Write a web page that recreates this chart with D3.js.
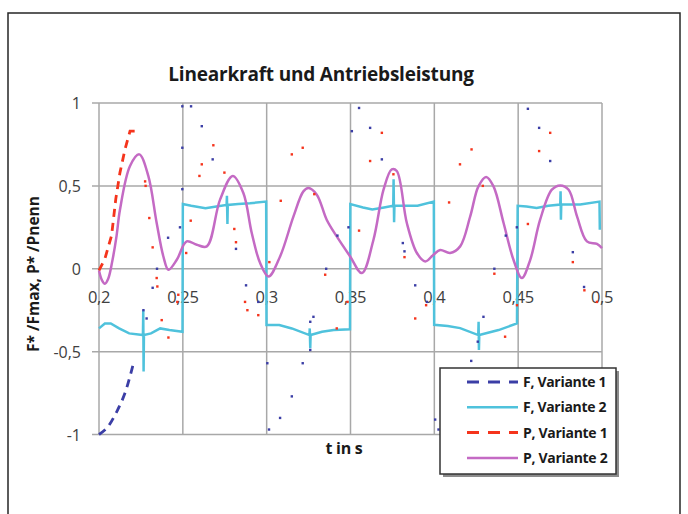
<!DOCTYPE html>
<html>
<head>
<meta charset="utf-8">
<script src="https://cdn.jsdelivr.net/npm/d3@7"></script>
<style>
  body { margin: 0; background: #fff; }
  text { font-family: "Open Sans", sans-serif; }
</style>
</head>
<body>
<svg width="688" height="514"></svg>
<script>
  const xTicks = [0.2, 0.25, 0.3, 0.35, 0.4, 0.45, 0.5];
  const yTicks = [-1, -0.5, 0, 0.5, 1];
  const seriesNames = ["F, Variante 1", "F, Variante 2", "P, Variante 1", "P, Variante 2"];

  // F, Variante 1: dashed start, then only dots are left of the dashed line
  const f1Dash = [[0.2, -1], [0.2048, -0.96], [0.2107, -0.86], [0.2155, -0.75], [0.2203, -0.58]];
  const f1Dots = [
    [0.2265, -0.25], [0.2284, -0.3], [0.232, -0.115], [0.2346, 0.0], [0.2412, 0.187], [0.2483, 0.25],
    [0.2497, 0.48], [0.2497, 0.73], [0.2497, 0.98], [0.2549, 0.98], [0.2613, 0.86], [0.2678, 0.66],
    [0.2817, 0.12], [0.2877, -0.1], [0.295, -0.2], [0.3004, -0.57], [0.3014, -0.97], [0.308, -0.9],
    [0.315, -0.77], [0.3215, -0.57], [0.326, -0.49], [0.326, -0.32], [0.3279, -0.29], [0.3355, 0.0],
    [0.3422, 0.2], [0.3488, 0.25], [0.3508, 0.83], [0.3551, 0.97], [0.3617, 0.85], [0.3687, 0.66],
    [0.3812, 0.155], [0.3822, 0.105], [0.3886, -0.1], [0.3956, -0.2], [0.4005, -0.91], [0.4025, -0.97],
    [0.422, -0.556], [0.4259, -0.44], [0.4293, -0.29], [0.4358, 0.0], [0.4426, 0.2], [0.4492, 0.25],
    [0.4558, 0.965], [0.4625, 0.85], [0.4691, 0.65], [0.4826, 0.1], [0.4893, -0.11]
  ];

  // F, Variante 2
  const f2 = [
    [0.2, -0.36], [0.2035, -0.33], [0.207, -0.33], [0.212, -0.36], [0.218, -0.39], [0.2262, -0.4],
    [0.2264, -0.25], [0.2266, -0.62], [0.2268, -0.4], [0.231, -0.39], [0.2365, -0.36], [0.242, -0.37],
    [0.2498, -0.38], [0.25, 0.39], [0.255, 0.38], [0.2635, 0.365], [0.27, 0.375], [0.2761, 0.385],
    [0.2763, 0.44], [0.2766, 0.27], [0.2768, 0.385], [0.283, 0.39], [0.29, 0.395], [0.2997, 0.405],
    [0.2999, -0.34], [0.3075, -0.34], [0.315, -0.36], [0.3255, -0.4], [0.3257, -0.36], [0.326, -0.48],
    [0.3262, -0.4], [0.333, -0.38], [0.34, -0.37], [0.3497, -0.365], [0.3499, 0.39], [0.3575, 0.37],
    [0.363, 0.357], [0.37, 0.37], [0.3755, 0.38], [0.3757, 0.54], [0.376, 0.28], [0.3762, 0.38],
    [0.382, 0.38], [0.39, 0.38], [0.3997, 0.405], [0.3999, -0.338], [0.408, -0.345], [0.4154, -0.358],
    [0.4262, -0.4], [0.4264, -0.32], [0.4266, -0.49], [0.4268, -0.4], [0.4383, -0.37], [0.4493, -0.33],
    [0.4497, 0.38], [0.455, 0.375], [0.461, 0.367], [0.468, 0.38], [0.4751, 0.387], [0.4753, 0.467],
    [0.4755, 0.296], [0.4757, 0.387], [0.487, 0.387], [0.4985, 0.405], [0.4987, 0.235]
  ];

  // P, Variante 1: dashed start, then dots
  const p1Dash = [[0.2, -0.01], [0.2035, 0.06], [0.2075, 0.2], [0.21, 0.42], [0.2125, 0.58], [0.2155, 0.72], [0.2185, 0.83], [0.2215, 0.83]];
  const p1Dots = [
    [0.2275, 0.527], [0.2278, 0.5], [0.23, 0.306], [0.232, 0.129], [0.2344, -0.056], [0.2348, -0.107],
    [0.2374, -0.31], [0.2414, -0.415], [0.2467, -0.2], [0.2473, -0.157], [0.252, 0.095], [0.2547, 0.29],
    [0.2599, 0.56], [0.2613, 0.63], [0.2682, 0.745], [0.2748, 0.58], [0.2807, 0.24], [0.2817, 0.16],
    [0.2871, -0.2], [0.2885, -0.25], [0.295, -0.28], [0.3016, 0.04], [0.3084, 0.41], [0.315, 0.69],
    [0.3215, 0.73], [0.3284, 0.45], [0.3349, -0.036], [0.3418, -0.36], [0.3482, -0.2], [0.3551, 0.23],
    [0.3617, 0.65], [0.3687, 0.82], [0.3756, 0.57], [0.3822, 0.07], [0.3886, -0.3], [0.3951, -0.22],
    [0.4088, 0.4], [0.4153, 0.63], [0.4222, 0.72], [0.4289, 0.5], [0.4358, -0.03], [0.4422, -0.41],
    [0.4493, -0.22], [0.4558, 0.27], [0.4625, 0.71], [0.4691, 0.82], [0.4826, 0.04], [0.4895, -0.13],
    [0.497, -0.2]
  ];

  // P, Variante 2
  const p2 = [
    [0.2, -0.01], [0.2018, -0.07], [0.2035, -0.09], [0.2055, -0.06], [0.208, 0.05], [0.2105, 0.2],
    [0.2125, 0.356], [0.2185, 0.62], [0.224, 0.69], [0.2294, 0.56], [0.2344, 0.276], [0.2384, 0.074],
    [0.2414, -0.006], [0.2464, 0.054], [0.2523, 0.165], [0.2583, 0.145], [0.2643, 0.135], [0.2722, 0.417],
    [0.2798, 0.56], [0.2861, 0.457], [0.2911, 0.216], [0.2961, 0.034], [0.3011, -0.047], [0.308, 0.074],
    [0.316, 0.316], [0.3219, 0.467], [0.3249, 0.487], [0.3299, 0.447], [0.3358, 0.296], [0.3418, 0.195],
    [0.3498, 0.074], [0.3568, -0.026], [0.3637, 0.175], [0.3697, 0.477], [0.3746, 0.6], [0.3776, 0.59],
    [0.3836, 0.276], [0.3896, 0.095], [0.3946, 0.044], [0.3995, 0.085], [0.4035, 0.113], [0.4094, 0.095],
    [0.4154, 0.135], [0.4214, 0.316], [0.4263, 0.497], [0.4309, 0.554], [0.4353, 0.497], [0.4413, 0.276],
    [0.4472, 0.054], [0.4522, -0.056], [0.4572, 0.054], [0.4631, 0.296], [0.4701, 0.477], [0.4751, 0.503],
    [0.4801, 0.477], [0.4851, 0.316], [0.491, 0.165], [0.497, 0.15], [0.5, 0.125]
  ];

  const colors = { f1: "#3b3ea6", f2: "#4fc2dc", p1: "#f5341c", p2: "#c46ac4" };

  const svg = d3.select("svg");
  const x = d3.scaleLinear().domain([0.2, 0.5]).range([99, 602]);
  const y = d3.scaleLinear().domain([-1, 1]).range([434.5, 103]);
  const comma = d => String(d).replace(".", ",");

  svg.append("rect").attr("width", 688).attr("height", 514).attr("fill", "#fff");
  svg.append("rect")
    .attr("x", 8).attr("y", 13).attr("width", 672).attr("height", 520)
    .attr("fill", "none").attr("stroke", "#262626").attr("stroke-width", 1.5);

  svg.append("text")
    .attr("x", 321).attr("y", 81)
    .attr("text-anchor", "middle")
    .attr("font-size", 19).attr("font-weight", "bold").attr("fill", "#1a1a1a")
    .attr("letter-spacing", -0.2)
    .text("Linearkraft und Antriebsleistung");

  // grid
  const grid = svg.append("g").attr("stroke", "#a8a8a8").attr("stroke-width", 1.5);
  grid.selectAll(".v").data(xTicks).enter().append("line")
    .attr("x1", d => x(d)).attr("x2", d => x(d))
    .attr("y1", y(1)).attr("y2", y(-1));
  grid.selectAll(".h").data(yTicks).enter().append("line")
    .attr("x1", x(0.2) - 7).attr("x2", x(0.5))
    .attr("y1", d => y(d)).attr("y2", d => y(d));

  // y tick labels
  svg.append("g").selectAll("text").data(yTicks).enter().append("text")
    .attr("x", 81).attr("y", d => y(d) + 6)
    .attr("text-anchor", "end").attr("font-size", 16).attr("fill", "#404040")
    .text(d => comma(d));

  // x tick labels sit on the zero line
  svg.append("g").selectAll("text").data(xTicks).enter().append("text")
    .attr("x", d => x(d)).attr("y", y(0) + 34)
    .attr("text-anchor", "middle").attr("font-size", 16.5).attr("fill", "#404040")
    .attr("letter-spacing", -0.3)
    .text(d => comma(d));

  svg.append("text")
    .attr("transform", "translate(39,274) rotate(-90)")
    .attr("text-anchor", "middle").attr("font-size", 15.5).attr("font-weight", "bold").attr("fill", "#1a1a1a")
    .text("F* /Fmax, P* /Pnenn");

  svg.append("text")
    .attr("x", 344).attr("y", 454)
    .attr("text-anchor", "middle").attr("font-size", 16).attr("font-weight", "bold").attr("fill", "#1a1a1a")
    .attr("letter-spacing", -0.3)
    .text("t in s");

  const line = d3.line().x(d => x(d[0])).y(d => y(d[1]));
  const smooth = d3.line().x(d => x(d[0])).y(d => y(d[1])).curve(d3.curveCatmullRom);

  const plot = svg.append("g").attr("fill", "none");

  plot.append("path").datum(f2)
    .attr("d", line).attr("stroke", colors.f2).attr("stroke-width", 2.5);
  plot.append("path").datum(p2)
    .attr("d", smooth).attr("stroke", colors.p2).attr("stroke-width", 2.5);

  plot.append("path").datum(f1Dash)
    .attr("d", smooth).attr("stroke", colors.f1).attr("stroke-width", 2.8)
    .attr("stroke-dasharray", "8,6");
  plot.append("path").datum(p1Dash)
    .attr("d", line).attr("stroke", colors.p1).attr("stroke-width", 2.8)
    .attr("stroke-dasharray", "8,6");

  const dots = (data, color) => svg.append("g").selectAll("rect").data(data).enter().append("rect")
    .attr("x", d => x(d[0]) - 1.2).attr("y", d => y(d[1]) - 1.2)
    .attr("width", 2.4).attr("height", 2.4).attr("fill", color);
  dots(f1Dots, colors.f1);
  dots(p1Dots, colors.p1);

  // legend
  const lg = svg.append("g");
  lg.append("rect").attr("x", 443).attr("y", 371).attr("width", 176).attr("height", 106).attr("fill", "#8c8c8c");
  lg.append("rect").attr("x", 440).attr("y", 368).attr("width", 176).attr("height", 106)
    .attr("fill", "#fff").attr("stroke", "#333").attr("stroke-width", 1.5);

  const legendRows = [
    { name: seriesNames[0], color: colors.f1, dash: "12,9" },
    { name: seriesNames[1], color: colors.f2, dash: null },
    { name: seriesNames[2], color: colors.p1, dash: "12,9" },
    { name: seriesNames[3], color: colors.p2, dash: null }
  ];
  const row = lg.selectAll(".row").data(legendRows).enter().append("g")
    .attr("transform", (d, i) => `translate(0, ${382 + i * 25.3})`);
  row.append("line")
    .attr("x1", 467).attr("x2", 518)
    .attr("stroke", d => d.color).attr("stroke-width", d => d.dash ? 3 : 2.5)
    .attr("stroke-dasharray", d => d.dash);
  row.append("text")
    .attr("x", 523).attr("y", 5)
    .attr("font-size", 14).attr("font-weight", "bold").attr("fill", "#1a1a1a")
    .attr("letter-spacing", -0.3)
    .text(d => d.name);
</script>
</body>
</html>
